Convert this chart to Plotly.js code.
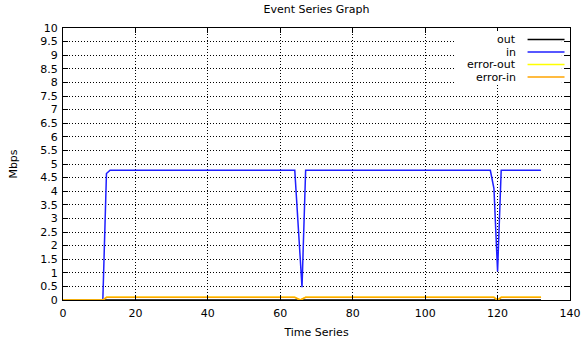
<!DOCTYPE html>
<html>
<head>
<meta charset="utf-8">
<script src="https://cdn.plot.ly/plotly-3.0.1.min.js"></script>
<style>html,body{margin:0;padding:0;background:#fff;}#chart{width:581px;height:342px;}</style>
</head>
<body>
<div id="chart"></div>
<script>
// ---- data ----
const seriesNames = ["out", "in", "error-out", "error-in"];
const seriesColors = ["#000000", "#1f1fff", "#ffff00", "#ffa500"];

const outX = [0, 132];
const outY = [0, 0];

const inX = [0, 11, 12, 13, 64, 65, 66, 67, 118, 119, 120, 121, 132];
const inY = [0, 0, 4.65, 4.77, 4.77, 2.6, 0.47, 4.77, 4.77, 4.1, 1.05, 4.77, 4.77];

const errOutX = [0, 11, 12, 64, 65.5, 67, 119, 120, 121, 132];
const errOutY = [0, 0, 0.1, 0.1, 0, 0.1, 0.1, 0, 0.1, 0.1];

const errInX = [0, 11, 12, 64, 65.5, 67, 119, 120, 121, 132];
const errInY = [0, 0, 0.1, 0.1, 0, 0.1, 0.1, 0, 0.1, 0.1];

const xTicks = [0, 20, 40, 60, 80, 100, 120, 140];
const yTicks = [0, 0.5, 1, 1.5, 2, 2.5, 3, 3.5, 4, 4.5, 5, 5.5, 6, 6.5, 7, 7.5, 8, 8.5, 9, 9.5, 10];

// ---- chart ----
const xs = [outX, inX, errOutX, errInX];
const ys = [outY, inY, errOutY, errInY];
const traces = seriesNames.map((n, i) => ({
  type: "scatter", mode: "lines", name: n, x: xs[i], y: ys[i],
  line: {color: seriesColors[i], width: 1.5},
  showlegend: false
}));

const font = {family: "'DejaVu Sans', sans-serif", size: 11, color: "#000"};

// legend (gnuplot style: text then sample line)
const legTop = 0.9577, legStep = 0.046;
const shapes = [{
  type: "rect", xref: "paper", yref: "paper", x0: 0.773, x1: 0.984, y0: 0.794, y1: 0.989,
  fillcolor: "#fff", line: {width: 0}, layer: "above"
}];
const annotations = [];
seriesNames.forEach((n, i) => {
  const yy = legTop - i * legStep;
  shapes.push({type: "line", xref: "paper", yref: "paper", x0: 0.9163, x1: 0.9892, y0: yy, y1: yy,
    line: {color: seriesColors[i], width: 1.5}, layer: "above"});
  annotations.push({xref: "paper", yref: "paper", x: 0.8966, y: yy, xanchor: "right", yanchor: "middle",
    text: n, showarrow: false, font: font});
});

const axisCommon = {
  showline: true, linecolor: "#000", linewidth: 1, mirror: "ticks",
  ticks: "inside", ticklen: 5, tickcolor: "#000", tickwidth: 1,
  showgrid: true, gridcolor: "#000", gridwidth: 1, griddash: "1px,2px",
  zeroline: false, tickfont: font, fixedrange: true
};

const layout = {
  width: 581, height: 342,
  margin: {l: 62.5, r: 11, t: 28, b: 42},
  paper_bgcolor: "#fff", plot_bgcolor: "#fff",
  font: font,
  title: {text: "Event Series Graph", font: font, x: 0.5, xref: "paper", y: 0.972, yanchor: "middle"},
  xaxis: Object.assign({}, axisCommon, {
    range: [0, 140], tickvals: xTicks, ticktext: xTicks.map(String), ticklabelstandoff: 3,
    title: {text: "Time Series", font: font, standoff: 9}
  }),
  yaxis: Object.assign({}, axisCommon, {
    range: [0, 10], tickvals: yTicks, ticktext: yTicks.map(String), ticklabelstandoff: 2,
    title: {text: "Mbps", font: font, standoff: 20}
  }),
  shapes: shapes,
  annotations: annotations
};

Plotly.newPlot("chart", traces, layout, {staticPlot: true, displayModeBar: false});
</script>
</body>
</html>
